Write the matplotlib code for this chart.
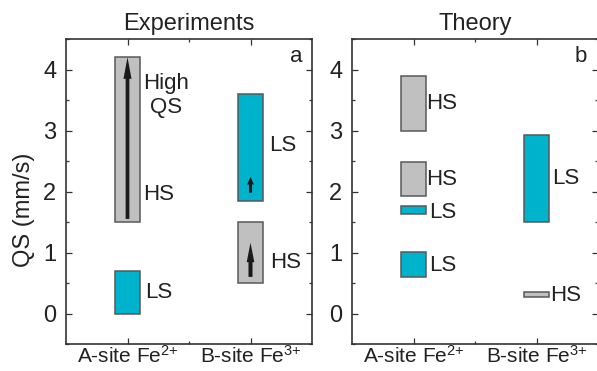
import matplotlib
matplotlib.use("Agg")
import matplotlib.pyplot as plt
from matplotlib.ticker import MultipleLocator, FixedLocator

plt.rcParams['font.family'] = ['Liberation Sans', 'DejaVu Sans']
plt.rcParams['mathtext.fontset'] = 'custom'
plt.rcParams['mathtext.rm'] = 'Liberation Sans'
plt.rcParams['mathtext.it'] = 'Liberation Sans'
plt.rcParams['mathtext.default'] = 'regular'

# ---------------- data ----------------
categories = [r'A-site Fe$^{2\text{+}}$', r'B-site Fe$^{3\text{+}}$']
cat_pos = [1, 2]

exp_site = [0, 0, 1, 1]
exp_low = [1.5, 0.0, 1.85, 0.5]
exp_high = [4.2, 0.7, 3.6, 1.5]
exp_state = ['HS', 'LS', 'LS', 'HS']

theory_site = [0, 0, 0, 0, 1, 1]
theory_low = [3.0, 1.92, 1.63, 0.6, 1.5, 0.27]
theory_high = [3.9, 2.49, 1.76, 1.0, 2.93, 0.35]
theory_state = ['HS', 'HS', 'LS', 'LS', 'LS', 'HS']

# arrows (site index, start QS, end QS)
arrow_site = [0, 1, 1]
arrow_start = [1.55, 1.98, 0.6]
arrow_end = [4.2, 2.24, 1.16]

# ---------------- style ----------------
GRAY = '#c0c0c0'
CYAN = '#00b3cc'
EDGE = '#585858'
TXT = '#222222'
FS = 16
FT = 17
state_color = {'HS': GRAY, 'LS': CYAN}

W, H = 597, 371
fig = plt.figure(figsize=(W / 100, H / 100), dpi=100)

def px_axes(l, r, t, b):
    return fig.add_axes([l / W, 1 - b / H, (r - l) / W, (b - t) / H])

ax1 = px_axes(66, 312, 39, 344)
ax2 = px_axes(352, 598, 39, 344)

for ax in (ax1, ax2):
    ax.set_xlim(0.5, 2.5)
    ax.set_ylim(-0.5, 4.5)
    ax.xaxis.set_major_locator(FixedLocator(cat_pos))
    ax.set_xticklabels(categories)
    ax.xaxis.set_minor_locator(FixedLocator([1.5]))
    ax.yaxis.set_major_locator(MultipleLocator(1))
    ax.yaxis.set_minor_locator(MultipleLocator(0.5))
    ax.tick_params(which='both', direction='in', top=True, right=True,
                   colors='#333333', width=0.9, labelcolor=TXT)
    ax.tick_params(which='major', length=4)
    ax.tick_params(which='minor', length=2.5)
    ax.tick_params(axis='y', which='major', labelsize=FS + 1, pad=7)
    ax.tick_params(axis='x', which='major', labelsize=15, pad=1)
    for s in ax.spines.values():
        s.set_linewidth(1.2)
        s.set_color('#333333')

def draw_bars(ax, sites, lows, highs, states):
    for si, lo, hi, st in zip(sites, lows, highs, states):
        ax.bar(cat_pos[si], hi - lo, bottom=lo, width=0.2,
               color=state_color[st], edgecolor=EDGE, linewidth=1.1, zorder=2)

draw_bars(ax1, exp_site, exp_low, exp_high, exp_state)
draw_bars(ax2, theory_site, theory_low, theory_high, theory_state)

# arrows
arrow_styles = [
    'simple,head_length=1.55,head_width=0.58,tail_width=0.27',
    'simple,head_length=0.55,head_width=0.48,tail_width=0.22',
    'simple,head_length=1.4,head_width=0.55,tail_width=0.29',
]
for si, a0, a1, sty in zip(arrow_site, arrow_start, arrow_end, arrow_styles):
    ax1.annotate('', xy=(cat_pos[si], a1), xytext=(cat_pos[si], a0),
                 arrowprops=dict(arrowstyle=sty, color='#1a1a1a',
                                 shrinkA=0, shrinkB=0, mutation_scale=10,
                                 linewidth=0),
                 zorder=3)

# labels, experiments
tk = dict(fontsize=FS, color=TXT, va='center', ha='left')
ax1.text(1.31, 3.57, 'High\nQS', ha='center', va='center', fontsize=FS,
         color=TXT, linespacing=1.2)
ax1.text(1.13, 1.95, 'HS', **tk)
ax1.text(1.14, 0.35, 'LS', **tk)
ax1.text(2.15, 2.76, 'LS', **tk)
ax1.text(2.16, 0.84, 'HS', **tk)
ax1.text(2.37, 4.22, 'a', fontsize=FS, color=TXT, ha='center', va='center')

# labels, theory
ax2.text(1.105, 3.45, 'HS', **tk)
ax2.text(1.105, 2.2, 'HS', **tk)
ax2.text(1.13, 1.66, 'LS', **tk)
ax2.text(1.13, 0.78, 'LS', **tk)
ax2.text(2.13, 2.21, 'LS', **tk)
ax2.text(2.11, 0.29, 'HS', **tk)
ax2.text(2.36, 4.22, 'b', fontsize=FS, color=TXT, ha='center', va='center')

ax1.set_title('Experiments', fontsize=FT, color=TXT, pad=6.5)
ax2.set_title('Theory', fontsize=FT, color=TXT, pad=6.5)

fig.text(24 / W, 1 - 210 / H, 'QS (mm/s)', rotation=90, fontsize=FT,
         color=TXT, ha='center', va='center')

fig.savefig('out.png', dpi=100)
